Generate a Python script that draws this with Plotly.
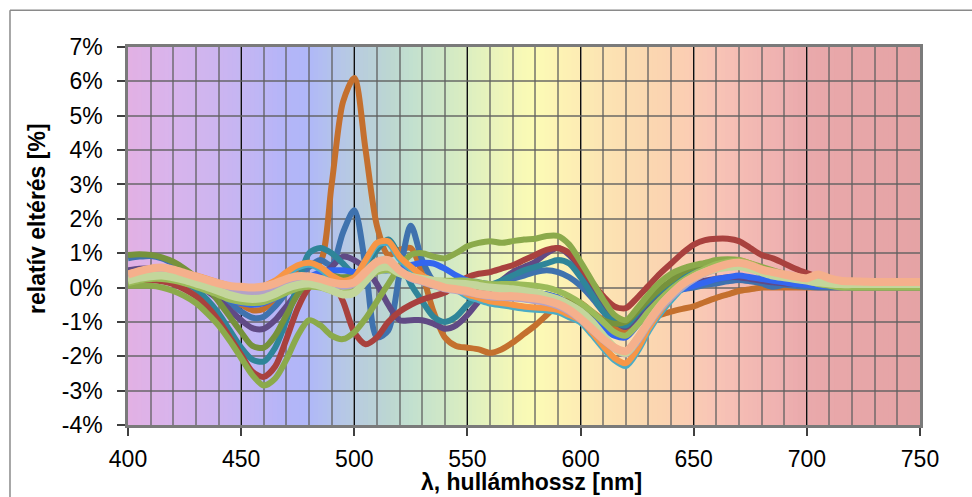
import plotly.graph_objects as go

# Wavelength grid of the measurements (nm)
WAVELENGTH = list(range(400, 755, 5))

# Relative deviation of each measured source [%], one value per wavelength
DEV_BROWN = [0.20, 0.28, 0.33, 0.33, 0.30, 0.22, 0.12, 0.00, -0.15, -0.32,
             -0.50, -0.66, -0.62, -0.30, 0.15, 0.55, 0.62, 0.75, 3.00, 5.40,
             6.10, 4.00, 1.80, 0.95, 1.10, 1.15, 0.40, -0.70, -1.45, -1.70,
             -1.75, -1.80, -1.90, -1.80, -1.60, -1.35, -1.10, -0.80, -0.50, -0.35,
             -0.45, -0.70, -0.95, -1.15, -1.25, -1.05, -0.90, -0.80, -0.70, -0.62,
             -0.55, -0.42, -0.30, -0.20, -0.10, -0.05, 0.00, 0.00, 0.00, 0.00,
             0.00, 0.00, 0.00, 0.00, 0.00, 0.00, 0.00, 0.00, 0.00, 0.00,
             0.00]
DEV_STEEL = [0.85, 0.90, 0.92, 0.85, 0.70, 0.50, 0.30, 0.05, -0.20, -0.45,
             -0.70, -0.88, -0.85, -0.55, -0.15, 0.25, 0.60, 0.80, 0.65, 1.60,
             2.25, 0.60, -1.45, -1.25, 0.40, 1.80, 0.80, 0.20, 0.10, 0.15,
             0.20, 0.15, 0.10, 0.15, 0.25, 0.35, 0.45, 0.50, 0.45, 0.30,
             0.05, -0.30, -0.70, -1.00, -1.10, -0.80, -0.50, -0.30, -0.15, -0.05,
             0.00, 0.08, 0.12, 0.18, 0.22, 0.18, 0.12, 0.02, 0.08, 0.05,
             0.02, 0.00, 0.00, 0.00, 0.00, 0.00, 0.00, 0.00, 0.00, 0.00,
             0.00]
DEV_PURPLE = [0.50, 0.55, 0.55, 0.50, 0.40, 0.28, 0.10, -0.10, -0.35, -0.65,
              -0.95, -1.18, -1.20, -0.95, -0.55, -0.15, 0.10, 0.30, 0.60, 0.90,
              0.80, 0.55, 0.10, -0.50, -0.95, -0.95, -0.95, -1.05, -1.20, -1.10,
              -0.80, -0.40, -0.05, 0.20, 0.45, 0.60, 0.75, 1.00, 1.15, 0.95,
              0.55, 0.05, -0.50, -0.95, -1.15, -0.85, -0.50, -0.25, -0.05, 0.05,
              0.15, 0.20, 0.25, 0.30, 0.30, 0.25, 0.20, 0.15, 0.12, 0.10,
              0.10, 0.08, 0.05, 0.05, 0.05, 0.05, 0.05, 0.05, 0.05, 0.05,
              0.05]
DEV_TEAL = [0.30, 0.38, 0.42, 0.38, 0.30, 0.15, -0.05, -0.35, -0.75, -1.25,
            -1.75, -2.10, -2.15, -1.75, -0.95, 0.10, 1.00, 1.15, 1.00, 0.70,
            0.40, 0.60, 1.10, 1.40, 0.90, 0.10, -0.40, -0.85, -1.00, -0.85,
            -0.50, -0.20, 0.05, 0.20, 0.35, 0.50, 0.60, 0.70, 0.80, 0.70,
            0.30, -0.20, -0.70, -1.00, -1.10, -0.75, -0.40, -0.10, 0.15, 0.35,
            0.50, 0.60, 0.65, 0.70, 0.72, 0.60, 0.40, 0.30, 0.22, 0.15,
            0.12, 0.10, 0.08, 0.05, 0.03, 0.02, 0.02, 0.02, 0.02, 0.02,
            0.02]
DEV_RED = [0.20, 0.22, 0.22, 0.18, 0.10, -0.05, -0.25, -0.55, -0.95, -1.45,
           -1.95, -2.45, -2.60, -2.30, -1.50, -0.60, 0.00, 0.25, 0.20, -0.40,
           -1.30, -1.65, -1.45, -1.00, -0.70, -0.50, -0.35, -0.25, -0.15, 0.10,
           0.30, 0.40, 0.45, 0.55, 0.65, 0.80, 0.95, 1.10, 1.15, 1.00,
           0.60, 0.15, -0.25, -0.55, -0.60, -0.30, 0.05, 0.40, 0.70, 1.00,
           1.25, 1.38, 1.42, 1.42, 1.35, 1.15, 0.95, 0.85, 0.70, 0.55,
           0.42, 0.30, 0.20, 0.15, 0.12, 0.10, 0.10, 0.10, 0.10, 0.10,
           0.10]
DEV_DARK_OLIVE = [0.95, 0.97, 0.95, 0.88, 0.75, 0.55, 0.30, 0.00, -0.40, -0.85,
                  -1.30, -1.70, -1.75, -1.40, -0.80, -0.20, 0.20, 0.35, 0.35, 0.30,
                  0.35, 0.55, 0.75, 0.70, 0.45, 0.30, 0.25, 0.20, 0.15, 0.10,
                  0.05, 0.00, 0.00, -0.05, -0.05, -0.10, -0.15, -0.20, -0.30, -0.45,
                  -0.60, -0.80, -0.95, -1.05, -1.00, -0.70, -0.35, -0.05, 0.20, 0.45,
                  0.60, 0.70, 0.75, 0.75, 0.72, 0.60, 0.50, 0.40, 0.30, 0.22,
                  0.15, 0.12, 0.10, 0.08, 0.06, 0.05, 0.05, 0.05, 0.05, 0.05,
                  0.05]
DEV_OLIVE = [0.05, 0.05, 0.05, 0.00, -0.10, -0.25, -0.45, -0.75, -1.10, -1.55,
             -2.05, -2.55, -2.85, -2.65, -2.10, -1.40, -0.95, -1.10, -1.40, -1.50,
             -1.30, -0.90, -0.40, 0.10, 0.60, 0.95, 1.00, 0.90, 0.85, 1.00,
             1.20, 1.30, 1.35, 1.30, 1.35, 1.40, 1.42, 1.50, 1.50, 1.25,
             0.75, 0.20, -0.35, -0.80, -0.95, -0.60, -0.20, 0.15, 0.40, 0.55,
             0.65, 0.72, 0.80, 0.82, 0.80, 0.70, 0.60, 0.50, 0.40, 0.30,
             0.20, 0.15, 0.10, 0.05, 0.00, 0.00, 0.00, 0.00, 0.00, 0.00,
             0.00]
DEV_BRIGHT_BLUE = [0.25, 0.30, 0.32, 0.30, 0.25, 0.15, 0.05, -0.08, -0.20, -0.35,
                   -0.45, -0.50, -0.45, -0.30, -0.10, 0.10, 0.30, 0.45, 0.50, 0.50,
                   0.45, 0.45, 0.50, 0.50, 0.55, 0.65, 0.72, 0.70, 0.55, 0.35,
                   0.20, 0.10, 0.05, 0.00, -0.05, -0.10, -0.15, -0.20, -0.30, -0.50,
                   -0.70, -0.95, -1.20, -1.40, -1.45, -1.10, -0.70, -0.40, -0.20, -0.05,
                   0.05, 0.15, 0.25, 0.30, 0.35, 0.30, 0.25, 0.20, 0.15, 0.10,
                   0.08, 0.05, 0.05, 0.05, 0.05, 0.05, 0.05, 0.05, 0.05, 0.05,
                   0.05]
DEV_CYAN = [0.35, 0.45, 0.50, 0.50, 0.45, 0.37, 0.30, 0.20, 0.10, 0.00,
            -0.05, -0.07, 0.00, 0.15, 0.40, 0.60, 0.68, 0.55, 0.30, 0.15,
            0.25, 0.75, 1.25, 1.30, 0.85, 0.55, 0.30, 0.15, 0.05, -0.05,
            -0.25, -0.35, -0.45, -0.50, -0.55, -0.60, -0.63, -0.65, -0.70, -0.85,
            -1.00, -1.35, -1.75, -2.10, -2.27, -1.85, -1.25, -0.75, -0.35, 0.00,
            0.25, 0.45, 0.57, 0.67, 0.73, 0.65, 0.50, 0.40, 0.33, 0.25,
            0.20, 0.25, 0.17, 0.13, 0.10, 0.08, 0.08, 0.08, 0.08, 0.08,
            0.08]
DEV_ORANGE = [0.40, 0.50, 0.55, 0.55, 0.50, 0.42, 0.35, 0.25, 0.15, 0.05,
              0.00, -0.02, 0.05, 0.20, 0.45, 0.65, 0.72, 0.60, 0.35, 0.20,
              0.30, 0.80, 1.30, 1.35, 0.90, 0.60, 0.35, 0.20, 0.10, 0.00,
              -0.20, -0.30, -0.40, -0.45, -0.50, -0.55, -0.58, -0.60, -0.65, -0.80,
              -0.95, -1.30, -1.70, -2.05, -2.20, -1.80, -1.20, -0.70, -0.30, 0.05,
              0.30, 0.50, 0.62, 0.72, 0.78, 0.70, 0.55, 0.45, 0.38, 0.30,
              0.25, 0.30, 0.22, 0.18, 0.15, 0.13, 0.12, 0.12, 0.12, 0.12,
              0.12]
DEV_LAVENDER = [0.30, 0.40, 0.45, 0.45, 0.40, 0.32, 0.22, 0.12, 0.02, -0.08,
                -0.15, -0.18, -0.12, 0.00, 0.15, 0.25, 0.25, 0.18, 0.08, 0.02,
                0.08, 0.40, 0.70, 0.72, 0.45, 0.25, 0.15, 0.05, -0.05, -0.10,
                -0.15, -0.22, -0.28, -0.30, -0.32, -0.35, -0.40, -0.45, -0.55, -0.72,
                -0.95, -1.25, -1.55, -1.80, -1.95, -1.60, -1.10, -0.65, -0.30, 0.00,
                0.22, 0.40, 0.52, 0.62, 0.66, 0.60, 0.48, 0.40, 0.34, 0.28,
                0.24, 0.30, 0.22, 0.17, 0.15, 0.14, 0.14, 0.14, 0.14, 0.14,
                0.14]
DEV_LIME = [0.12, 0.20, 0.25, 0.25, 0.20, 0.12, 0.02, -0.10, -0.22, -0.35,
            -0.42, -0.45, -0.42, -0.30, -0.15, -0.02, 0.02, 0.00, -0.10, -0.15,
            -0.10, 0.20, 0.45, 0.50, 0.40, 0.30, 0.25, 0.20, 0.20, 0.20,
            0.20, 0.15, 0.10, 0.10, 0.10, 0.08, 0.05, 0.00, -0.10, -0.25,
            -0.45, -0.70, -1.00, -1.30, -1.40, -1.10, -0.70, -0.35, -0.05, 0.20,
            0.40, 0.55, 0.68, 0.75, 0.78, 0.70, 0.55, 0.45, 0.35, 0.25,
            0.20, 0.10, 0.05, 0.00, 0.00, 0.00, 0.00, 0.00, 0.00, 0.00,
            0.00]
DEV_PALE_GREEN = [0.20, 0.28, 0.33, 0.35, 0.30, 0.22, 0.12, 0.02, -0.10, -0.22,
                  -0.30, -0.33, -0.30, -0.18, -0.02, 0.08, 0.12, 0.05, -0.08, -0.20,
                  -0.15, 0.20, 0.55, 0.60, 0.42, 0.32, 0.25, 0.20, 0.15, 0.12,
                  0.10, 0.05, 0.00, -0.03, -0.05, -0.10, -0.15, -0.25, -0.35, -0.50,
                  -0.70, -1.00, -1.40, -1.75, -1.90, -1.50, -1.00, -0.55, -0.20, 0.10,
                  0.30, 0.45, 0.55, 0.60, 0.62, 0.55, 0.45, 0.35, 0.30, 0.25,
                  0.20, 0.15, 0.12, 0.10, 0.10, 0.10, 0.10, 0.10, 0.10, 0.10,
                  0.10]
DEV_SALMON = [0.38, 0.48, 0.55, 0.58, 0.52, 0.42, 0.32, 0.22, 0.12, 0.05,
              0.02, 0.00, 0.03, 0.12, 0.25, 0.33, 0.32, 0.25, 0.15, 0.10,
              0.15, 0.45, 0.75, 0.80, 0.50, 0.30, 0.20, 0.10, 0.00, -0.05,
              -0.10, -0.18, -0.22, -0.25, -0.25, -0.28, -0.32, -0.38, -0.48, -0.65,
              -0.90, -1.20, -1.50, -1.75, -1.85, -1.50, -1.00, -0.55, -0.20, 0.10,
              0.30, 0.45, 0.58, 0.68, 0.72, 0.65, 0.52, 0.45, 0.38, 0.32,
              0.27, 0.38, 0.27, 0.20, 0.18, 0.17, 0.16, 0.16, 0.16, 0.16,
              0.16]

# Spectrum tint behind the plot: (wavelength nm, colour)
SPECTRUM_STOPS = [
    (400, "#e2b1e4"), (420, "#d8b4ec"), (440, "#ccb5f0"), (455, "#c1b6f4"),
    (470, "#b3b5f8"), (480, "#b0b8f8"), (490, "#b3c2ec"), (500, "#b8cce0"),
    (515, "#bcd6d2"), (525, "#c2e0cf"), (540, "#d0e8c6"), (555, "#e2f1be"),
    (570, "#f3f7b8"), (580, "#fcfbb5"), (595, "#fdf0b4"), (610, "#fce4b3"),
    (630, "#fbd8b1"), (645, "#fbcfb2"), (660, "#f8c4b6"), (675, "#f3b9b3"),
    (690, "#eeb0b0"), (700, "#e9a9ab"), (750, "#e5a3a5"),
]

SERIES = [
    (DEV_BROWN, "#c4702e", 6),
    (DEV_STEEL, "#3f72ae", 6),
    (DEV_PURPLE, "#604a85", 6),
    (DEV_TEAL, "#2f8599", 6),
    (DEV_RED, "#a9413e", 6),
    (DEV_DARK_OLIVE, "#76923c", 6),
    (DEV_OLIVE, "#8baa4b", 6),
    (DEV_BRIGHT_BLUE, "#3366f0", 6),
    (DEV_CYAN, "#4bacc6", 7),
    (DEV_ORANGE, "#f79646", 6),
    (DEV_LAVENDER, "#b3a2c7", 6),
    (DEV_LIME, "#9bbb59", 6),
    (DEV_PALE_GREEN, "#c3d69b", 8),
    (DEV_SALMON, "#f5b08c", 8),
]


def hex_to_rgb(h):
    h = h.lstrip("#")
    return tuple(int(h[i:i + 2], 16) for i in (0, 2, 4))


def spectrum_colour(wl):
    for (w0, c0), (w1, c1) in zip(SPECTRUM_STOPS, SPECTRUM_STOPS[1:]):
        if w0 <= wl <= w1:
            t = (wl - w0) / (w1 - w0)
            a, b = hex_to_rgb(c0), hex_to_rgb(c1)
            r, g, bl = (round(a[i] + (b[i] - a[i]) * t) for i in range(3))
            return f"rgb({r},{g},{bl})"
    return SPECTRUM_STOPS[-1][1]


fig = go.Figure()

for values, colour, width in SERIES:
    fig.add_trace(go.Scatter(
        x=WAVELENGTH, y=values, mode="lines",
        line=dict(color=colour, width=width, shape="spline", smoothing=0.8),
        hoverinfo="skip", showlegend=False,
    ))

# spectrum tint under the grid (bands overlap slightly so no seams show)
shapes = []
step = 2
for wl in range(400, 750, step):
    col = spectrum_colour(wl + step / 2)
    shapes.append(dict(
        type="rect", xref="x", yref="paper", x0=wl, x1=min(wl + step + 1, 750),
        y0=0, y1=1, fillcolor=col, line=dict(width=0), layer="below",
    ))

# outer chart frame
frame = dict(color="#8a8a8a", width=1.5)
shapes.append(dict(type="line", xref="paper", yref="paper",
                   x0=-0.149, x1=1.1, y0=1.097, y1=1.097, line=frame))
shapes.append(dict(type="line", xref="paper", yref="paper",
                   x0=-0.149, x1=-0.149, y0=1.097, y1=-0.25, line=frame))

tick_font = dict(family="Liberation Sans, Arial, sans-serif", size=23, color="#000000")
title_font = dict(family="Liberation Sans, Arial, sans-serif", size=23, color="#000000")

fig.update_layout(
    width=972, height=497,
    margin=dict(l=128, r=52, t=47, b=72),
    paper_bgcolor="white",
    plot_bgcolor="rgba(0,0,0,0)",
    showlegend=False,
    hovermode=False,
    shapes=shapes,
    annotations=[
        dict(text="<b>λ, hullámhossz [nm]</b>", xref="paper", yref="paper",
             x=0.510, y=-0.152, showarrow=False, font=title_font,
             xanchor="center", yanchor="middle"),
        dict(text="<b>relatív eltérés [%]</b>", xref="paper", yref="paper",
             x=-0.115, y=0.545, showarrow=False, font=title_font,
             textangle=-90, xanchor="center", yanchor="middle"),
    ],
)

fig.update_xaxes(
    range=[400, 750], tickmode="array", tickvals=list(range(400, 751, 50)),
    ticks="outside", ticklen=8, tickwidth=1.5, tickcolor="#404040",
    tickfont=tick_font, ticklabelstandoff=4,
    showgrid=True, gridcolor="rgba(0,0,0,0.9)", gridwidth=1,
    minor=dict(dtick=10, tick0=400, showgrid=True,
               gridcolor="rgba(95,95,95,0.65)", gridwidth=1.5),
    showline=True, linecolor="#7a7a7a", linewidth=2.5, mirror=True,
    zeroline=False,
)
fig.update_yaxes(
    range=[-4, 7], tickmode="array", tickvals=list(range(-4, 8)),
    ticktext=[f"{v}%" for v in range(-4, 8)],
    ticks="outside", ticklen=8, tickwidth=1.5, tickcolor="#404040",
    tickfont=tick_font, ticklabelstandoff=10,
    showgrid=True, gridcolor="rgba(95,95,95,0.7)", gridwidth=1.5,
    showline=True, linecolor="#7a7a7a", linewidth=2.5, mirror=True,
    zeroline=False,
)

fig.write_html("out.html")
